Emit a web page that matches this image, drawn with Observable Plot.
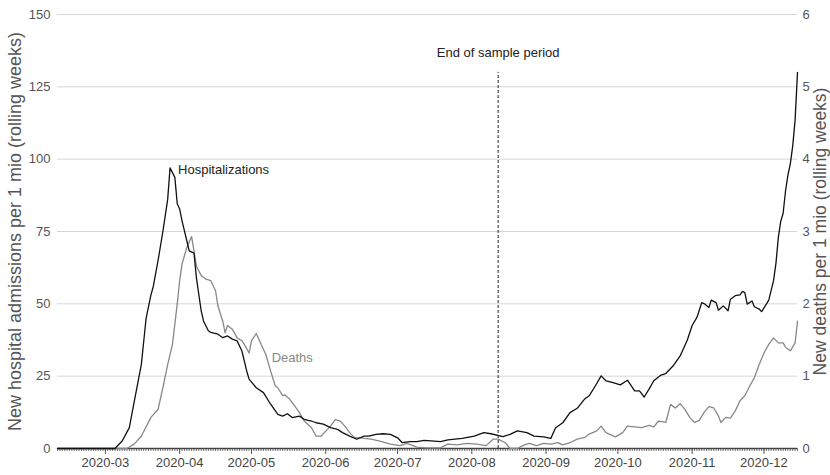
<!DOCTYPE html>
<html><head><meta charset="utf-8">
<script src="https://cdn.jsdelivr.net/npm/d3@7"></script>
<script src="https://cdn.jsdelivr.net/npm/@observablehq/plot@0.6"></script>
<style>body{margin:0;background:#fff}</style>
</head><body><div id="chart"></div>
<script>
// New hospital admissions per 1 mio (rolling weeks)
const hospitalizations = [
["2020-02-10",0],["2020-03-05",0],["2020-03-08",2.6],["2020-03-11",7.2],["2020-03-13",16],["2020-03-16",29],["2020-03-17",37],["2020-03-18",45],["2020-03-20",53],["2020-03-21",56],["2020-03-23",65],["2020-03-25",75],["2020-03-27",86],["2020-03-28",97],["2020-03-30",93.7],["2020-03-31",84.6],
["2020-04-01",82.8],["2020-04-02",78.7],["2020-04-04",71.8],["2020-04-05",68.3],["2020-04-07",67.5],["2020-04-08",59],["2020-04-10",47.6],["2020-04-11",44],["2020-04-13",40.7],["2020-04-14",40.1],["2020-04-17",39.5],["2020-04-19",38.3],["2020-04-21",38.9],["2020-04-23",37.8],["2020-04-25",37.2],["2020-04-27",33.7],["2020-04-29",26.8],["2020-04-30",24],
["2020-05-03",21],["2020-05-06",19.3],["2020-05-09",15.3],["2020-05-12",11.8],["2020-05-14",11.2],["2020-05-16",12],["2020-05-18",10.7],["2020-05-21",11.2],["2020-05-23",10.1],["2020-05-26",9.5],["2020-05-28",8.9],["2020-05-31",8.4],
["2020-06-03",7.2],["2020-06-06",6.6],["2020-06-08",5.5],["2020-06-11",4.3],["2020-06-14",3.2],["2020-06-17",4.3],["2020-06-19",4.3],["2020-06-22",4.9],["2020-06-25",5.1],["2020-06-28",4.9],
["2020-07-01",3.7],["2020-07-03",2],["2020-07-06",2.4],["2020-07-09",2.4],["2020-07-12",2.8],["2020-07-15",2.6],["2020-07-19",2.4],["2020-07-22",3],["2020-07-28",3.5],
["2020-08-02",4.3],["2020-08-06",5.5],["2020-08-09",5.1],["2020-08-14",4.1],["2020-08-17",4.9],["2020-08-20",6.1],["2020-08-24",5.5],["2020-08-27",4.3],["2020-08-31",4],
["2020-09-03",3.5],["2020-09-05",7.2],["2020-09-08",8.9],["2020-09-11",12.4],["2020-09-14",13.9],["2020-09-17",17],["2020-09-19",18.2],["2020-09-22",22.2],["2020-09-24",25.1],["2020-09-26",23.4],["2020-09-29",22.8],
["2020-10-02",22],["2020-10-05",23.6],["2020-10-08",19.9],["2020-10-10",19.9],["2020-10-12",17.8],["2020-10-14",20.5],["2020-10-16",23.4],["2020-10-19",25.4],["2020-10-21",25.9],["2020-10-24",28.5],["2020-10-27",32],["2020-10-30",37.5],
["2020-11-01",42.5],["2020-11-03",45.3],["2020-11-05",50.4],["2020-11-06",50.1],["2020-11-08",48.7],["2020-11-09",51.3],["2020-11-11",50.4],["2020-11-12",47.8],["2020-11-14",49.3],["2020-11-16",47.6],["2020-11-17",51.6],["2020-11-19",52.8],["2020-11-21",53.1],["2020-11-22",54.3],["2020-11-23",53.9],["2020-11-24",49.9],["2020-11-26",51],["2020-11-27",49],["2020-11-29",48.2],["2020-11-30",47.3],
["2020-12-02",49.9],["2020-12-03",51.3],["2020-12-05",58],["2020-12-06",64],["2020-12-07",73],["2020-12-08",78.5],["2020-12-09",81.3],["2020-12-10",89],["2020-12-11",94.5],["2020-12-12",98.4],["2020-12-13",104.5],["2020-12-14",113.5],["2020-12-15",130]
];

// New deaths per 1 mio (rolling weeks), right axis
const deaths = [
["2020-02-10",0],["2020-03-10",0],["2020-03-13",0.06],["2020-03-16",0.17],["2020-03-20",0.43],["2020-03-23",0.54],["2020-03-25",0.84],["2020-03-27",1.16],["2020-03-29",1.44],["2020-03-31",2.0],
["2020-04-01",2.32],["2020-04-02",2.55],["2020-04-04",2.78],["2020-04-06",2.93],["2020-04-07",2.73],["2020-04-08",2.52],["2020-04-10",2.39],["2020-04-12",2.34],["2020-04-14",2.32],["2020-04-16",2.18],["2020-04-17",1.97],["2020-04-19",1.76],["2020-04-20",1.6],["2020-04-21",1.7],["2020-04-23",1.65],["2020-04-25",1.53],["2020-04-27",1.49],["2020-04-28",1.44],["2020-04-30",1.32],
["2020-05-01",1.49],["2020-05-03",1.59],["2020-05-05",1.44],["2020-05-07",1.3],["2020-05-09",1.07],["2020-05-11",0.86],["2020-05-12",0.84],["2020-05-14",0.73],["2020-05-15",0.74],["2020-05-17",0.68],["2020-05-19",0.59],["2020-05-21",0.5],["2020-05-23",0.38],["2020-05-26",0.29],["2020-05-28",0.17],["2020-05-30",0.17],
["2020-06-01",0.24],["2020-06-03",0.31],["2020-06-05",0.4],["2020-06-07",0.38],["2020-06-09",0.31],["2020-06-11",0.22],["2020-06-13",0.15],["2020-06-15",0.15],["2020-06-17",0.14],["2020-06-20",0.13],["2020-06-24",0.1],["2020-06-28",0.06],
["2020-07-02",0.04],["2020-07-05",0.07],["2020-07-09",0.02],["2020-07-13",0.01],["2020-07-19",0.01],["2020-07-22",0.06],["2020-07-26",0.05],["2020-07-30",0.07],
["2020-08-03",0.06],["2020-08-07",0.04],["2020-08-10",0.13],["2020-08-12",0.13],["2020-08-15",0.08],["2020-08-17",0],["2020-08-20",0],["2020-08-23",0.05],["2020-08-25",0.07],["2020-08-28",0.04],["2020-08-31",0.07],
["2020-09-03",0.06],["2020-09-06",0.08],["2020-09-08",0.05],["2020-09-11",0.08],["2020-09-14",0.13],["2020-09-17",0.15],["2020-09-19",0.2],["2020-09-22",0.24],["2020-09-24",0.31],["2020-09-26",0.22],["2020-09-30",0.16],
["2020-10-03",0.22],["2020-10-05",0.31],["2020-10-08",0.3],["2020-10-11",0.29],["2020-10-14",0.32],["2020-10-16",0.3],["2020-10-18",0.38],["2020-10-21",0.36],["2020-10-23",0.61],["2020-10-25",0.56],["2020-10-27",0.62],["2020-10-29",0.54],["2020-10-31",0.43],
["2020-11-02",0.36],["2020-11-04",0.39],["2020-11-06",0.5],["2020-11-08",0.58],["2020-11-10",0.56],["2020-11-12",0.45],["2020-11-13",0.36],["2020-11-15",0.43],["2020-11-17",0.42],["2020-11-19",0.52],["2020-11-21",0.66],["2020-11-23",0.73],["2020-11-25",0.86],["2020-11-27",0.98],["2020-11-29",1.16],
["2020-12-01",1.32],["2020-12-03",1.44],["2020-12-05",1.53],["2020-12-07",1.46],["2020-12-09",1.46],["2020-12-10",1.4],["2020-12-12",1.35],["2020-12-14",1.46],["2020-12-15",1.76]
];

const leftTicks = [0, 25, 50, 75, 100, 125, 150];
const rightTicks = [0, 1, 2, 3, 4, 5, 6];
const leftTitle = "New hospital admissions per 1 mio (rolling weeks)";
const rightTitle = "New deaths per 1 mio (rolling weeks)";
const noteLabels = ["Hospitalizations", "Deaths", "End of sample period"];
const noteDates = ["2020-03-28", "2020-05-09", "2020-08-12"];
const noteValues = [96.4, 31.4, 136.6];
const sampleEnd = "2020-08-12";
const sampleLineTop = 130;

const parse = d3.utcParse("%Y-%m-%d");
const ratio = leftTicks[leftTicks.length - 1] / rightTicks[rightTicks.length - 1];
const hosp = hospitalizations.map(([d, v]) => ({date: parse(d), value: v}));
const dth = deaths.map(([d, v]) => ({date: parse(d), value: v * ratio}));
const start = hosp[0].date, end = hosp[hosp.length - 1].date;
const days = d3.utcDay.range(start, d3.utcDay.offset(end, 1));
const months = d3.utcMonth.range(start, end);
const notes = noteLabels.map((t, i) => ({text: t, date: parse(noteDates[i]), value: noteValues[i]}));

const chart = Plot.plot({
  width: 830,
  height: 475,
  marginTop: 14,
  marginBottom: 27,
  marginLeft: 57,
  marginRight: 33,
  style: {fontFamily: "'Liberation Sans', Arial, sans-serif", fontSize: "13px", background: "#fff"},
  x: {type: "utc", domain: [start, end]},
  y: {domain: [0, 150]},
  marks: [
    Plot.gridY(leftTicks.slice(1), {stroke: "#d6d6d6", strokeOpacity: 1}),
    Plot.axisY(leftTicks, {anchor: "left", tickSize: 0, tickPadding: 7, color: "#555", fontSize: 13, label: null}),
    Plot.axisY(rightTicks.map(d => d * ratio), {anchor: "right", tickSize: 0, tickPadding: 5, tickFormat: d => d / ratio, color: "#555", fontSize: 13, label: null}),
    Plot.axisX(days, {tickSize: 3, tickFormat: () => "", stroke: "#777", label: null}),
    Plot.axisX(months, {tickSize: 6, tickPadding: 3, tickFormat: d3.utcFormat("%Y-%m"), stroke: "#555", color: "#444", fontSize: 13, label: null}),
    Plot.ruleY([0], {stroke: "#444", strokeWidth: 1.3}),
    Plot.line(dth, {x: "date", y: "value", stroke: "#888", strokeWidth: 1.3}),
    Plot.line(hosp, {x: "date", y: "value", stroke: "#111", strokeWidth: 1.3}),
    Plot.ruleX([parse(sampleEnd)], {y1: 0, y2: sampleLineTop, stroke: "#222", strokeDasharray: "3,2"}),
    Plot.text([notes[0]], {x: "date", y: "value", text: "text", textAnchor: "start", dx: 8, fill: "#222", fontSize: 13}),
    Plot.text([notes[1]], {x: "date", y: "value", text: "text", textAnchor: "start", dx: 1, fill: "#888", fontSize: 13}),
    Plot.text([notes[2]], {x: "date", y: "value", text: "text", textAnchor: "middle", fill: "#222", fontSize: 13}),
    Plot.text([leftTitle], {frameAnchor: "left", textAnchor: "middle", rotate: -90, dx: -42, fill: "#555", fontSize: 18}),
    Plot.text([rightTitle], {frameAnchor: "right", textAnchor: "middle", rotate: -90, dx: 23, fill: "#555", fontSize: 17.5})
  ]
});
document.getElementById("chart").appendChild(chart);
</script>
</body></html>
